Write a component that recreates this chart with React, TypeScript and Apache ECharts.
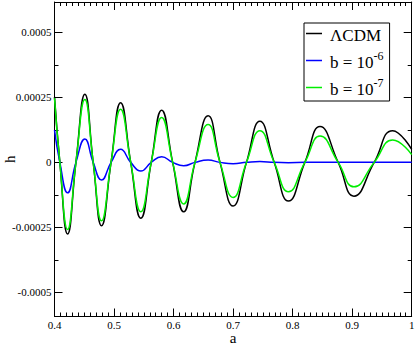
import { useEffect, useRef } from 'react';
import * as echarts from 'echarts';

// Nodes along the scale factor a (start, zero crossings, extrema, end)
const aNodes = [
  0.400, 0.409, 0.422, 0.436, 0.451, 0.465, 0.479, 0.495, 0.511, 0.528,
  0.545, 0.5625, 0.580, 0.5985, 0.617, 0.636, 0.658, 0.678, 0.700, 0.7225,
  0.745, 0.769, 0.793, 0.8205, 0.846, 0.8765, 0.903, 0.937, 0.968, 1.000,
];

// ΛCDM (black)
const hLcdm = [
  0.000252, 0, -0.000276, 0, 0.000262, 0, -0.000244, 0, 0.000229, 0,
  -0.000215, 0, 0.000201, 0, -0.00019, 0, 0.000179, 0, -0.000168, 0,
  0.000158, 0, -0.000149, 0, 0.000138, 0, -0.00013, 0, 0.000122, 0.00005,
];

// b = 10^-6 (blue)
const hB6 = [
  0.000124, 0, -0.000117, 0, 0.0000896, 0, -0.000068, 0, 0.00005, 0,
  -0.0000335, 0, 0.0000216, 0, -0.000013, 0, 0.0000088, 0, -0.000005, 0,
  0.000003, 0, -0.000001, 0, 0, 0, 0, 0, 0, 0,
];

// b = 10^-7 (green)
const hB7 = [
  0.000247, 0, -0.000258, 0, 0.000242, 0, -0.000225, 0, 0.000204, 0,
  -0.00019, 0, 0.000173, 0, -0.00016, 0, 0.000146, 0, -0.000135, 0,
  0.000122, 0, -0.000113, 0, 0.000101, 0, -0.000094, 0, 0.000086, 0.00003,
];

const seriesNames = ['ΛCDM', 'b = 10-6', 'b = 10-7'];
const seriesColors = ['#000000', '#0000ff', '#00ee00'];

const yMajorValues = [-0.0005, -0.00025, 0, 0.00025, 0.0005];
const yMinorValues = [-0.000375, -0.000125, 0.000125, 0.000375];
const Y_MIN = -0.000593;
const Y_MAX = 0.000617;

const FONT = "'Liberation Serif', 'Times New Roman', serif";

export default function App() {
  const ref = useRef<HTMLDivElement>(null);

  useEffect(() => {
    if (!ref.current) return;
    const chart = echarts.init(ref.current, undefined, { renderer: 'svg' });
    const line = { color: '#000', width: 1 };

    const xCommon: any = {
      type: 'value',
      min: 0.4,
      max: 1,
      interval: 0.1,
      axisLine: { show: true, onZero: false, lineStyle: line },
      axisTick: { show: true, inside: true, length: 8, lineStyle: line },
      minorTick: { show: true, splitNumber: 10, length: 4, lineStyle: line },
      splitLine: { show: false },
      minorSplitLine: { show: false },
    };
    const yCommon: any = {
      type: 'value',
      min: Y_MIN,
      max: Y_MAX,
      axisLine: { show: true, onZero: false, lineStyle: line },
      splitLine: { show: false },
    };

    const series = [hLcdm, hB6, hB7].map((h, i) => ({
      name: seriesNames[i],
      type: 'line',
      xAxisIndex: 0,
      yAxisIndex: 0,
      data: aNodes.map((a, k) => [a, h[k]]),
      symbol: 'none',
      showSymbol: false,
      smooth: 0.5,
      color: seriesColors[i],
      lineStyle: { color: seriesColors[i], width: 1.5 },
      z: i === 0 ? 2 : i === 1 ? 3 : 4,
    }));

    chart.setOption({
      animation: false,
      backgroundColor: '#fff',
      grid: { left: 54.5, right: 3.3, top: 2, bottom: 29.5, containLabel: false, outerBoundsMode: 'none' },
      xAxis: [
        {
          ...xCommon,
          position: 'bottom',
          axisLabel: { show: true, margin: 3, fontFamily: FONT, fontSize: 11, lineHeight: 11, color: '#000' },
          name: 'a',
          nameLocation: 'middle',
          nameGap: 15,
          nameMoveOverlap: false,
          nameTextStyle: { fontFamily: FONT, fontSize: 15, color: '#000', lineHeight: 12 },
        },
        { ...xCommon, position: 'top', axisLabel: { show: false } },
      ],
      yAxis: [
        {
          ...yCommon,
          position: 'left',
          axisTick: { show: true, inside: true, length: 8, lineStyle: line, customValues: yMajorValues },
          axisLabel: {
            show: true,
            margin: 3,
            fontFamily: FONT,
            fontSize: 11,
            color: '#000',
            customValues: yMajorValues,
            formatter: (v: number) => String(v),
          },
          name: 'h',
          nameLocation: 'middle',
          nameGap: 39,
          nameRotate: 90,
          nameMoveOverlap: false,
          nameTextStyle: { fontFamily: FONT, fontSize: 15, color: '#000', lineHeight: 12 },
        },
        {
          ...yCommon,
          position: 'right',
          axisTick: { show: true, inside: true, length: 8, lineStyle: line, customValues: yMajorValues },
          axisLabel: { show: false },
        },
        {
          ...yCommon,
          position: 'left',
          axisLine: { show: false },
          axisTick: { show: true, inside: true, length: 4, lineStyle: line, customValues: yMinorValues },
          axisLabel: { show: false },
        },
        {
          ...yCommon,
          position: 'right',
          axisLine: { show: false },
          axisTick: { show: true, inside: true, length: 4, lineStyle: line, customValues: yMinorValues },
          axisLabel: { show: false },
        },
      ],
      legend: {
        show: true,
        orient: 'vertical',
        left: 304,
        top: 23,
        padding: [4, 6, 3, 2],
        itemGap: 6,
        itemWidth: 16,
        itemHeight: 1.5,
        icon: 'rect',
        borderColor: '#000',
        borderWidth: 1,
        borderRadius: 0,
        backgroundColor: '#fff',
        selectedMode: false,
        data: seriesNames,
        formatter: (name: string) => {
          if (name === 'ΛCDM') return '{m|ΛCDM}';
          const exp = name.slice(name.indexOf('10') + 2);
          return `{m|b = 10}{s|${exp}}`;
        },
        textStyle: {
          fontFamily: FONT,
          fontSize: 17,
          color: '#000',
          padding: [0, 0, 0, 3],
          rich: {
            m: { fontFamily: FONT, fontSize: 17, color: '#000', lineHeight: 21, verticalAlign: 'bottom' },
            s: { fontFamily: FONT, fontSize: 12, color: '#000', lineHeight: 8, verticalAlign: 'top' },
          },
        },
      },
      series,
    });

    return () => chart.dispose();
  }, []);

  return (
    <div
      ref={ref}
      style={{ position: 'fixed', left: 0, top: 0, width: 415, height: 346, background: '#fff' }}
    />
  );
}
